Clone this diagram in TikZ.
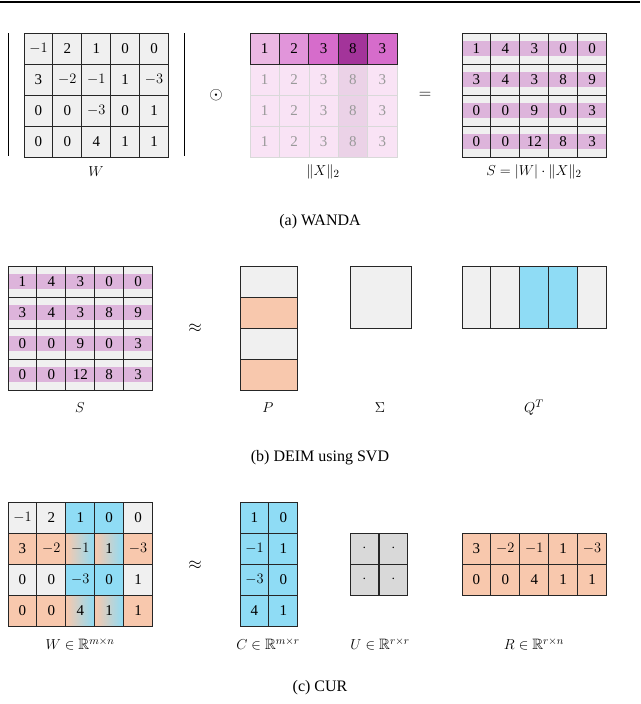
\documentclass[tikz,border=0pt]{standalone}
\usepackage{fontspec}
\usepackage{amssymb}
\setmainfont{Liberation Serif}
\definecolor{cgray}{HTML}{F0F0F0}
\definecolor{corange}{HTML}{F8C8AD}
\definecolor{cblue}{HTML}{8FDCF5}
\definecolor{cband}{HTML}{DDB4DB}
\definecolor{cug}{HTML}{D9D9D9}
\definecolor{xa}{HTML}{EBB8E3}
\definecolor{xb}{HTML}{E195DA}
\definecolor{xc}{HTML}{D66CCB}
\definecolor{xd}{HTML}{A3349A}
\definecolor{xfade}{HTML}{F9E3F5}
\definecolor{xfaded}{HTML}{EBD2E7}
\tikzset{
 cellbox/.style={draw=black!85, line width=0.9pt},
 num/.style={font=\fontsize{15}{15}\selectfont, inner sep=0pt},
 lab/.style={font=\fontsize{15}{15}\selectfont},
 capt/.style={font=\fontsize{16}{16}\selectfont},
 opsym/.style={font=\fontsize{16}{16}\selectfont},
}
\newcommand\mcell[4]{%
  \fill[#3] (#1,#2) rectangle ++(28.9,31);
  \draw[cellbox] (#1,#2) rectangle ++(28.9,31);
  \node[num] at ($(#1,#2)+(14.45,15.5)$) {#4};}
\usetikzlibrary{calc}
\begin{document}
\begin{tikzpicture}[x=1pt,y=-1pt]
\useasboundingbox (0,0) rectangle (640,704);
\draw[line width=1.2pt] (0,2) -- (640,2);
% ---------- (a)
\draw[line width=1pt] (8,33) -- (8,156);
\draw[line width=1pt] (184,33) -- (184,156);
\foreach \r [count=\i from 0] in {{$-1$,2,1,0,0},{3,$-2$,$-1$,1,$-3$},{0,0,$-3$,0,1},{0,0,4,1,1}}{
  \foreach \v [count=\j from 0] in \r { \mcell{24+28.9*\j}{33+31*\i}{cgray}{\v} }}
\node[lab] (wa) at (96,172) {$W$};
\node[opsym] (odot) at (216,95) {$\odot$};
% X
\foreach \c [count=\j from 0] in {xa,xb,xc,xd,xc}{
  \fill[\c] (250+29.4*\j,33) rectangle ++(29.4,31);}
\foreach \i in {1,2,3}{\foreach \j in {0,...,4}{
  \ifnum\j=3 \fill[xfaded] (250+29.4*\j,33+31*\i) rectangle ++(29.4,31);
  \else \fill[xfade] (250+29.4*\j,33+31*\i) rectangle ++(29.4,31);\fi
  \draw[black!15] (250+29.4*\j,33+31*\i) rectangle ++(29.4,31);}}
\foreach \v [count=\j from 0] in {1,2,3,8,3}{
  \draw[cellbox] (250+29.4*\j,33) rectangle ++(29.4,31);
  \node[num] at (264.7+29.4*\j,48.5) {\v};
  \foreach \i in {1,2,3}{\node[num,text=black!40] at (264.7+29.4*\j,48.5+31*\i) {\v};}}
\node[lab] (xl) at (323,172) {$\|X\|_2$};
\node[opsym] (eqa) at (425,95) {$=$};
% S
\newcommand\smat[2]{%
 \foreach \r [count=\i from 0] in {{1,4,3,0,0},{3,4,3,8,9},{0,0,9,0,3},{0,0,12,8,3}}{
  \foreach \v [count=\j from 0] in \r {
   \fill[cgray] (#1+28.9*\j,#2+31*\i) rectangle ++(28.9,31);
   \fill[cband] (#1+28.9*\j,#2+31*\i+8) rectangle ++(28.9,15);
   \draw[cellbox] (#1+28.9*\j,#2+31*\i) rectangle ++(28.9,31);
   \node[num] at (#1+28.9*\j+14.45,#2+31*\i+15.5) {\v};}}}
\smat{462}{33}
\node[lab] (sl) at (534,172) {$S=|W|\cdot\|X\|_2$};
\node[capt] (capa) at (320,222) {(a) WANDA};
% ---------- (b)
\smat{8}{266}
\node[lab] (sb) at (80,408) {$S$};
\node[opsym] (apb) at (195,328) {$\approx$};
\foreach \c [count=\i from 0] in {cgray,corange,cgray,corange}{
  \fill[\c] (240,266+31*\i) rectangle ++(57,31);
  \draw[cellbox] (240,266+31*\i) rectangle ++(57,31);}
\node[lab] (pl) at (268,408) {$P$};
\fill[cgray] (350,266) rectangle (411,328);
\draw[cellbox] (350,266) rectangle (411,328);
\node[lab] (sgl) at (380,408) {$\Sigma$};
\foreach \c [count=\j from 0] in {cgray,cgray,cblue,cblue,cgray}{
  \fill[\c] (462+28.9*\j,266) rectangle ++(28.9,62);
  \draw[cellbox] (462+28.9*\j,266) rectangle ++(28.9,62);}
\node[lab] (ql) at (534,408) {$Q^T$};
\node[capt] (capb) at (320,458) {(b) DEIM using SVD};
% ---------- (c)
\foreach \r [count=\i from 0] in {{$-1$,2,1,0,0},{3,$-2$,$-1$,1,$-3$},{0,0,$-3$,0,1},{0,0,4,1,1}}{
  \foreach \v [count=\j from 0] in \r {
   \pgfmathtruncatemacro\isrow{(\i==1)||(\i==3)}
   \pgfmathtruncatemacro\iscol{(\j==2)||(\j==3)}
   \ifnum\isrow=1
     \ifnum\iscol=1
       \shade[shading=axis,shading angle=45,left color=corange,right color=cblue] (8+28.9*\j,502+31*\i) rectangle ++(28.9,31);
     \else \fill[corange] (8+28.9*\j,502+31*\i) rectangle ++(28.9,31);\fi
   \else
     \ifnum\iscol=1 \fill[cblue] (8+28.9*\j,502+31*\i) rectangle ++(28.9,31);
     \else \fill[cgray] (8+28.9*\j,502+31*\i) rectangle ++(28.9,31);\fi
   \fi
   \draw[cellbox] (8+28.9*\j,502+31*\i) rectangle ++(28.9,31);
   \node[num] at (22.45+28.9*\j,517.5+31*\i) {\v};}}
\node[lab] (wc) at (80,644) {$W\in\mathbb{R}^{m\times n}$};
\node[opsym] (apc) at (195,565) {$\approx$};
\foreach \r [count=\i from 0] in {{1,0},{$-1$,1},{$-3$,0},{4,1}}{
  \foreach \v [count=\j from 0] in \r { \mcell{240+28.9*\j}{502+31*\i}{cblue}{\v} }}
\node[lab] (cl) at (268,644) {$C\in\mathbb{R}^{m\times r}$};
\foreach \i in {0,1}{\foreach \j in {0,1}{ \mcell{350+29*\j}{533+31*\i}{cug}{$\cdot$} }}
\node[lab] (ul) at (380,644) {$U\in\mathbb{R}^{r\times r}$};
\foreach \r [count=\i from 0] in {{3,$-2$,$-1$,1,$-3$},{0,0,4,1,1}}{
  \foreach \v [count=\j from 0] in \r { \mcell{462+28.9*\j}{533+31*\i}{corange}{\v} }}
\node[lab] (rl) at (534,644) {$R\in\mathbb{R}^{r\times n}$};
\node[capt] (capc) at (320,688) {(c) CUR};
\end{tikzpicture}
\end{document}
